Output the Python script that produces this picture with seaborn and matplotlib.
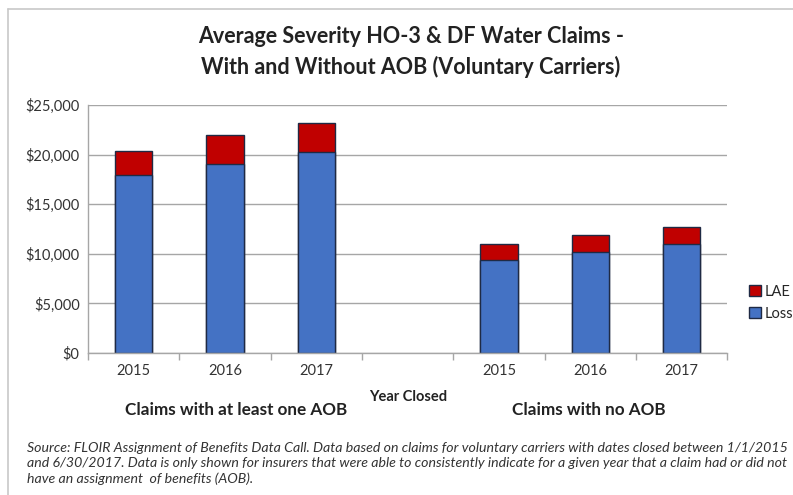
import matplotlib
matplotlib.use("Agg")
import matplotlib.pyplot as plt
import matplotlib.patches as mpatches
from matplotlib.lines import Line2D
from matplotlib.ticker import FuncFormatter, FixedLocator
import seaborn as sns
import pandas as pd

# data
groups = ["Claims with at least one AOB"] * 3 + ["Claims with no AOB"] * 3
years = ["2015", "2016", "2017", "2015", "2016", "2017"]
loss = [17900, 19060, 20240, 9390, 10170, 10975]
lae = [2500, 2950, 2920, 1615, 1670, 1675]

slots = ["a2015", "a2016", "a2017", "gap", "n2015", "n2016", "n2017"]
tick_labels = ["2015", "2016", "2017", "", "2015", "2016", "2017"]

df = pd.DataFrame({
    "slot": ["a2015", "a2016", "a2017", "n2015", "n2016", "n2017"],
    "group": groups,
    "year": years,
    "Loss": loss,
    "LAE": lae,
})
df["total"] = df["Loss"] + df["LAE"]

sns.set_theme(style="white")
plt.rcParams["font.family"] = ["Lato", "DejaVu Sans"]

blue = "#4472C4"
red = "#C00000"
edge = "#1F2A44"

fig = plt.figure(figsize=(7.93, 4.95), dpi=100)
ax = fig.add_axes([0.111, 0.287, 0.806, 0.501])

# stacked: total in red behind, loss in blue in front
sns.barplot(data=df, x="slot", y="total", order=slots, color=red, width=0.41,
            edgecolor=edge, linewidth=1.0, saturation=1, ax=ax)
sns.barplot(data=df, x="slot", y="Loss", order=slots, color=blue, width=0.41,
            edgecolor=edge, linewidth=1.0, saturation=1, ax=ax)

ax.set_ylim(0, 25000)
ax.set_xlim(-0.5, 6.5)
ax.yaxis.set_major_locator(FixedLocator(range(0, 25001, 5000)))
ax.yaxis.set_major_formatter(FuncFormatter(lambda v, p: f"${int(v):,}"))
ax.grid(axis="y", color="#A6A6A6", linewidth=1.0)
ax.set_axisbelow(True)

ax.set_xticks(range(7))
ax.set_xticklabels(tick_labels)
ax.set_xticks([i - 0.5 for i in range(8)], minor=True)
ax.tick_params(axis="x", which="major", length=0, pad=8, labelsize=10.5, colors="#333333")
ax.tick_params(axis="x", which="minor", length=5, width=1, color="#A6A6A6", bottom=True)
ax.tick_params(axis="y", length=0, pad=6, labelsize=10.5, colors="#333333")
ax.set_xlabel("")
ax.set_ylabel("")

for side in ["top", "right"]:
    ax.spines[side].set_visible(False)
for side in ["left", "bottom"]:
    ax.spines[side].set_color("#A6A6A6")
    ax.spines[side].set_linewidth(1.0)

handles = [mpatches.Patch(facecolor=red, edgecolor=edge, label="LAE"),
           mpatches.Patch(facecolor=blue, edgecolor=edge, label="Loss")]
fig.legend(handles=handles, loc="center left", bbox_to_anchor=(0.937, 0.388),
           frameon=False, fontsize=10.5, handlelength=0.8, handleheight=0.8,
           handletextpad=0.25, labelspacing=0.55, borderaxespad=0)

fig.text(0.518, 0.895, "Average Severity HO-3 & DF Water Claims -\nWith and Without AOB (Voluntary Carriers)",
         ha="center", va="center", fontsize=15.5, fontweight="bold", color="#222222",
         linespacing=1.45)

fig.text(0.515, 0.198, "Year Closed", ha="center", va="center", fontsize=10.5,
         fontweight="bold", color="#222222")
fig.text(0.298, 0.172, "Claims with at least one AOB", ha="center", va="center",
         fontsize=12.3, fontweight="bold", color="#222222")
fig.text(0.743, 0.172, "Claims with no AOB", ha="center", va="center",
         fontsize=12.3, fontweight="bold", color="#222222")

source = ("Source: FLOIR Assignment of Benefits Data Call. Data based on claims for voluntary carriers with dates closed between 1/1/2015\n"
          "and 6/30/2017. Data is only shown for insurers that were able to consistently indicate for a given year that a claim had or did not\n"
          "have an assignment  of benefits (AOB).")
fig.text(0.034, 0.064, source, ha="left", va="center", fontsize=10.2, style="italic",
         color="#333333", linespacing=1.3)

# frame: top and left edges of the chart box
x0 = 8 / 793
y0 = 1 - 9 / 495
fig.add_artist(Line2D([x0, x0], [0, y0], transform=fig.transFigure, color="#C8C8C8", linewidth=1.2))
fig.add_artist(Line2D([x0, 1], [y0, y0], transform=fig.transFigure, color="#C8C8C8", linewidth=1.2))

fig.savefig("out.png", dpi=100)
